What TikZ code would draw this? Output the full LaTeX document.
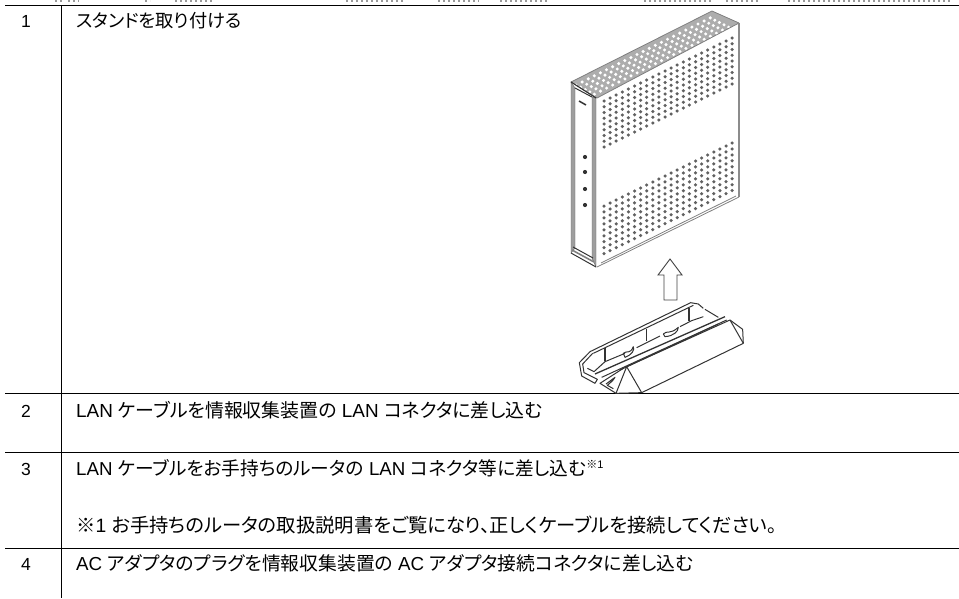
\documentclass[tikz,border=0pt]{standalone}
\usepackage{fontspec}
\setmainfont{Liberation Sans}
\newfontfamily\jp[RawFeature=+palt]{Noto Sans CJK JP}
\newcommand{\rowfont}[1]{\fontsize{#1}{22}\selectfont}
\tikzset{
  rule/.style={line width=0.9pt,black},
  cell/.style={anchor=base west,inner sep=0pt,text=black},
  numcell/.style={anchor=base west,inner sep=0pt,font=\fontsize{17.5}{20}\selectfont,text=black},
  ink/.style={line width=1pt,black!80,line join=round},
  soft/.style={line width=0.8pt,black!50,line join=round},
  band/.style={fill=black!38,draw=black!60,line width=0.4pt},
  vent/.style={black!62}
}
\begin{document}
\begin{tikzpicture}[x=1pt,y=-1pt]
\useasboundingbox (0,0) rectangle (959,598);
% clipped line above the table
\foreach \a/\b in {55/63,68/79,145/150,175/213,346/404,438/479,500/548,644/712,726/760,788/950}
  \draw[black!40,line width=1.6pt,dash pattern=on 2pt off 3pt] (\a,0.8) -- (\b,0.8);
% table rules
\draw[rule] (5,5) -- (959,5);
\draw[rule] (5,393) -- (959,393);
\draw[rule] (5,452) -- (959,452);
\draw[rule] (5,548) -- (959,548);
\draw[rule] (61,5) -- (61,598);
% cells
\node[numcell] (n1) at (21,27) {1};
\node[cell,font=\rowfont{18.2}] (t1) at (76,27) {\jp スタンドを取り付ける};
\node[numcell] (n2) at (21,417) {2};
\node[cell,font=\rowfont{18.9}] (t2) at (76,417) {LAN {\jp ケーブルを情報収集装置の} LAN {\jp コネクタに差し込む}};
\node[numcell] (n3) at (21,475) {3};
\node[cell,font=\rowfont{18.7}] (t3) at (76,475) {LAN {\jp ケーブルをお手持ちのルータの} LAN {\jp コネクタ等に差し込む}\raisebox{7pt}{\fontsize{11}{12}\selectfont{\jp ※}1}};
\node[cell,font=\rowfont{19.3}] (t3b) at (76,532) {{\jp ※}1 {\jp お手持ちのルータの取扱説明書をご覧になり、正しくケーブルを接続してください。}};
\node[numcell] (n4) at (21,570) {4};
\node[cell,font=\rowfont{18.8}] (t4) at (76,570) {AC {\jp アダプタのプラグを情報収集装置の} AC {\jp アダプタ接続コネクタに差し込む}};
% device: top face
\fill[black!32] (571,82) -- (712,11) -- (739,23) -- (597,98) -- cycle;
\foreach \i in {0,...,22}
  \foreach \j in {0,...,4}
    \fill[white] (576+6.1*\i+4.6*\j,85-3.05*\i+2.3*\j) circle (1.7);
\draw[soft] (571,82) -- (712,11) -- (739,23) -- (597,98) -- cycle;
% device: side and front
\draw[black!45,line width=1.8pt] (739,23) -- (739,197);
\draw[soft] (597,267) -- (739,197);
\draw[soft] (601,263) -- (736,196);
\draw[band] (571,82) -- (575,88) -- (575,248) -- (571,253) -- cycle;
\draw[band] (592,97) -- (596,98) -- (596,267) -- (592,258) -- cycle;
\draw[ink] (575,88) -- (592,97);
\draw[ink] (571,82) -- (596,98);
\draw[ink] (571,253) -- (596,267);
\draw[ink] (573,247) -- (593,258);
\draw[soft,line width=1.6pt] (572,250) -- (594,262);
% logo and lamps
\draw[line width=1.5pt,black!80] (579,101) -- (586,105);
\foreach \px/\py in {585/157,585/172,585/189,585/205}
  \fill[black!80] (\px,\py) circle (2.1);
% side vents
\foreach \i in {0,...,21}
  \foreach \j in {0,...,8} {
    \fill[vent] (604+6.1*\i,101-3.0*\i+5.75*\j) circle (1.75);
    \fill[vent] (604+6.1*\i,206-3.0*\i+5.95*\j) circle (1.75);
  }
% arrow
\draw[line width=0.9pt,black!75,line join=miter] (670,259) -- (682,275) -- (677,275) -- (677,300) -- (664,300) -- (664,275) -- (658,275) -- cycle;
% stand
\begin{scope}[shift={(570,300)},x=0.3333pt,y=-0.3333pt]
  \draw[ink] (60,155) -- (28,188) -- (35,228) -- (75,250) -- (82,238) -- (42,218) -- (38,192) -- (68,160);
  \draw[ink] (60,155) -- (362,8) -- (385,12) -- (400,25);
  \draw[ink] (70,160) -- (370,16);
  \draw[ink] (52,205) -- (72,215) -- (105,185) -- (165,160);
  \draw[ink] (200,143) -- (270,108);
  \draw[ink] (330,80) -- (365,62) -- (400,50);
  \draw[ink] (405,28) -- (445,52);
  \draw[ink,line width=1.2pt] (105,145) -- (105,182);
  \draw[ink,line width=1.2pt] (230,87) -- (230,122);
  \draw[ink,line width=1.2pt] (357,25) -- (357,62);
  \draw[ink] (160,160) .. controls (170,150) and (180,165) .. (190,140) .. controls (195,150) and (185,165) .. (165,172) -- (160,160);
  \draw[ink] (280,102) .. controls (290,90) and (300,105) .. (325,82) .. controls (325,95) and (310,108) .. (285,110) -- (280,102);
  \draw[ink,line width=1.3pt] (75,222) -- (465,50);
  \draw[ink] (95,232) -- (470,60);
  \draw[ink] (150,210) -- (445,72);
  \draw[ink] (170,200) -- (480,60) -- (518,88) -- (520,130);
  \draw[ink] (480,60) -- (520,130);
  \draw[ink] (215,278) -- (520,130);
  \draw[ink] (170,200) -- (138,280) -- (215,278) -- cycle;
  \draw[ink] (160,205) -- (90,250) -- (138,280);
  \draw[ink] (108,252) -- (135,232) -- (128,242) -- (112,256) -- (130,266);
\end{scope}
\end{tikzpicture}
\end{document}
